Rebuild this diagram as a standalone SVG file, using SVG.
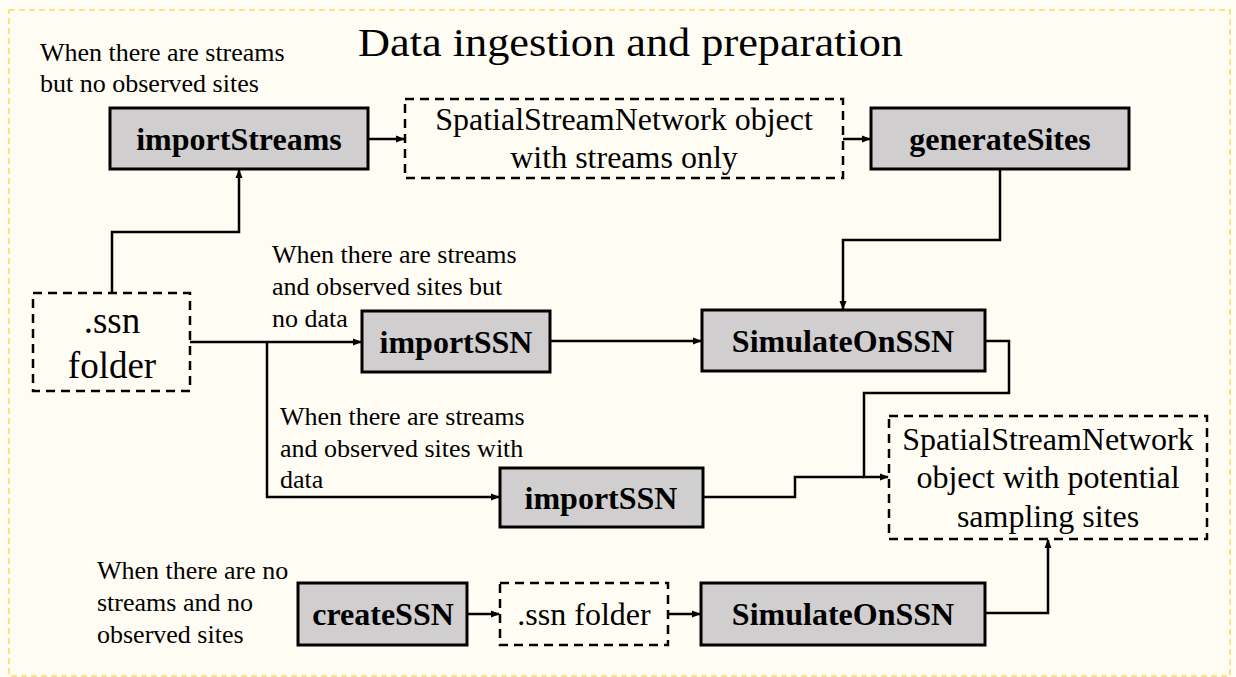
<svg xmlns="http://www.w3.org/2000/svg" width="1236" height="677" viewBox="0 0 1236 677">
<style>
.bg{fill:#FFFCF3}
.frame{fill:none;stroke:#FFD966;stroke-width:1.5;stroke-dasharray:6 4}
.proc{fill:#D0CECF;stroke:#000;stroke-width:3}
.data{fill:none;stroke:#000;stroke-width:2.5;stroke-dasharray:9 6}
.lbl{font-family:"Liberation Serif","Times New Roman",serif;font-size:32px;fill:#000;text-anchor:middle}
.b{font-weight:bold}
.note{font-family:"Liberation Serif","Times New Roman",serif;font-size:26px;fill:#000}
.title{font-family:"Liberation Serif","Times New Roman",serif;font-size:41px;fill:#000}
.conn path{fill:none;stroke:#000;stroke-width:2.5}
</style>
<defs>
<marker id="arr" markerWidth="9" markerHeight="8" refX="8" refY="4" orient="auto" markerUnits="userSpaceOnUse">
<path d="M0,0.5 L9,4 L0,7.5 z" fill="#000"/>
</marker>
</defs>
<rect class="bg" x="0" y="0" width="1236" height="677"/>
<rect class="frame" x="9" y="10" width="1221" height="666"/>
<text class="title" x="358" y="56" textLength="545" lengthAdjust="spacingAndGlyphs">Data ingestion and preparation</text>

<g id="note1"><text class="note" x="40" y="61">When there are streams</text><text class="note" x="40" y="92">but no observed sites</text></g>
<g id="note2"><text class="note" x="272" y="263">When there are streams</text><text class="note" x="272" y="295">and observed sites but</text><text class="note" x="272" y="327">no data</text></g>
<g id="note3"><text class="note" x="280" y="425">When there are streams</text><text class="note" x="280" y="457">and observed sites with</text><text class="note" x="280" y="488">data</text></g>
<g id="note4"><text class="note" x="97" y="579">When there are no</text><text class="note" x="97" y="611">streams and no</text><text class="note" x="97" y="643">observed sites</text></g>

<g id="importStreams"><rect class="proc" x="110" y="108" width="258" height="61"/><text class="lbl b" x="239" y="150">importStreams</text></g>
<g id="ssnStreamsOnly"><rect class="data" x="405" y="99" width="438" height="79"/><text class="lbl" x="624" y="130">SpatialStreamNetwork object</text><text class="lbl" x="624" y="168">with streams only</text></g>
<g id="generateSites"><rect class="proc" x="871" y="108" width="258" height="61"/><text class="lbl b" x="1000" y="150">generateSites</text></g>
<g id="ssnFolder"><rect class="data" x="33" y="293" width="157" height="98"/><text class="lbl" x="112" y="333" style="font-size:37px">.ssn</text><text class="lbl" x="112" y="378" style="font-size:37px">folder</text></g>
<g id="importSSN1"><rect class="proc" x="362" y="311" width="188" height="61"/><text class="lbl b" x="456" y="353">importSSN</text></g>
<g id="simulate1"><rect class="proc" x="702" y="310" width="283" height="61"/><text class="lbl b" x="843" y="352">SimulateOnSSN</text></g>
<g id="importSSN2"><rect class="proc" x="500" y="468" width="203" height="59"/><text class="lbl b" x="601" y="509">importSSN</text></g>
<g id="ssnPotential"><rect class="data" x="889" y="416" width="318" height="123"/><text class="lbl" x="1048" y="450">SpatialStreamNetwork</text><text class="lbl" x="1048" y="488">object with potential</text><text class="lbl" x="1048" y="527">sampling sites</text></g>
<g id="createSSN"><rect class="proc" x="298" y="583" width="169" height="62"/><text class="lbl b" x="383" y="625">createSSN</text></g>
<g id="ssnFolder2"><rect class="data" x="500" y="583" width="168" height="62"/><text class="lbl" x="584" y="625">.ssn folder</text></g>
<g id="simulate2"><rect class="proc" x="701" y="583" width="284" height="62"/><text class="lbl b" x="843" y="625">SimulateOnSSN</text></g>

<g id="connectors" class="conn">
<path d="M112,293 V232 H239 V170" marker-end="url(#arr)"/>
<path d="M190,342 H361" marker-end="url(#arr)"/>
<path d="M267,342 V497 H499" marker-end="url(#arr)"/>
<path d="M368,139 H404" marker-end="url(#arr)"/>
<path d="M843,139 H870" marker-end="url(#arr)"/>
<path d="M1000,169 V240 H843 V309" marker-end="url(#arr)"/>
<path d="M550,341 H701" marker-end="url(#arr)"/>
<path d="M985,341 H1009 V393 H864 V477 H888" marker-end="url(#arr)"/>
<path d="M703,497 H795 V477 H864"/>
<path d="M467,614 H499" marker-end="url(#arr)"/>
<path d="M668,614 H700" marker-end="url(#arr)"/>
<path d="M985,613 H1048 V540" marker-end="url(#arr)"/>
</g>
</svg>
